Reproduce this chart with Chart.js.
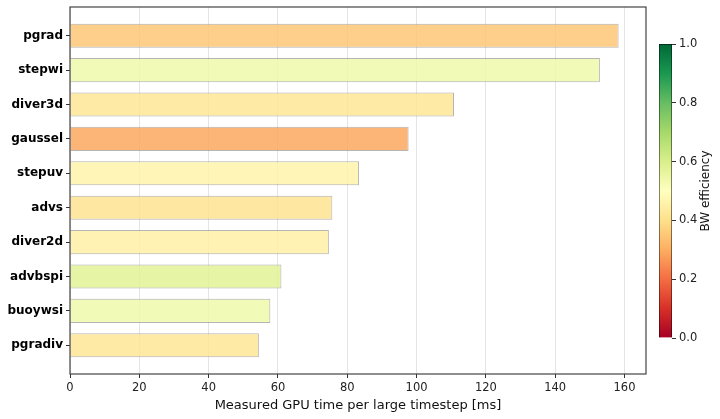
<!DOCTYPE html>
<html>
<head>
<meta charset="utf-8">
<script src="https://cdn.jsdelivr.net/npm/chart.js@4"></script>
<style>
  html, body { margin: 0; padding: 0; background: #fff; }
  #wrap { position: relative; width: 720px; height: 419px; }
  #myChart { position: absolute; left: 0; top: 0; }
  #cbChart { position: absolute; left: 640px; top: 0; }
</style>
</head>
<body>
<div id="wrap">
  <canvas id="myChart" width="720" height="419"></canvas>
  <canvas id="cbChart" width="80" height="419"></canvas>
</div>
<script>
// kernels, top to bottom
const kernels = ['pgrad', 'stepwi', 'diver3d', 'gaussel', 'stepuv', 'advs', 'diver2d', 'advbspi', 'buoywsi', 'pgradiv'];
const gpuTimeMs = [158.3, 152.9, 110.8, 97.7, 83.4, 75.7, 74.7, 61.0, 57.8, 54.5];
const bwEfficiency = [0.35, 0.54, 0.42, 0.29, 0.46, 0.41, 0.45, 0.58, 0.54, 0.42];
const xTicks = [0, 20, 40, 60, 80, 100, 120, 140, 160];
const cbTicks = [0, 0.2, 0.4, 0.6, 0.8, 1.0];

// matplotlib RdYlGn
const rdylgn = ['#a50026', '#d73027', '#f46d43', '#fdae61', '#fee08b', '#ffffbf',
                '#d9ef8b', '#a6d96a', '#66bd63', '#1a9850', '#006837'];

function hexRgb(h) {
  return [parseInt(h.slice(1, 3), 16), parseInt(h.slice(3, 5), 16), parseInt(h.slice(5, 7), 16)];
}
function cmap(t, alpha) {
  const p = Math.min(Math.max(t, 0), 1) * (rdylgn.length - 1);
  const i = Math.min(Math.floor(p), rdylgn.length - 2);
  const f = p - i;
  const a = hexRgb(rdylgn[i]), b = hexRgb(rdylgn[i + 1]);
  const c = a.map((v, k) => Math.round(v + (b[k] - v) * f));
  return `rgba(${c[0]}, ${c[1]}, ${c[2]}, ${alpha})`;
}

const font = { family: 'DejaVu Sans', size: 11.5 };

// axes frame like matplotlib spines
const frame = {
  id: 'frame',
  afterDraw(chart) {
    const a = chart.chartArea, ctx = chart.ctx;
    ctx.save();
    ctx.strokeStyle = '#444';
    ctx.lineWidth = 1.2;
    ctx.strokeRect(a.left, a.top, a.right - a.left, a.bottom - a.top);
    ctx.restore();
  }
};

new Chart(document.getElementById('myChart'), {
  type: 'bar',
  data: {
    datasets: [{
      data: kernels.map((k, i) => ({ x: gpuTimeMs[i], y: i })),
      backgroundColor: bwEfficiency.map(v => cmap(v, 0.85)),
      borderColor: 'rgba(120, 120, 120, 0.55)',
      borderWidth: 1,
      barPercentage: 0.7,
      categoryPercentage: 1
    }]
  },
  options: {
    indexAxis: 'y',
    responsive: false,
    animation: false,
    layout: { padding: { top: 7, right: 74, left: 0, bottom: 0 } },
    plugins: { legend: { display: false }, tooltip: { enabled: false } },
    scales: {
      x: {
        type: 'linear',
        min: 0,
        max: 166.2,
        offset: false,
        afterBuildTicks: s => { s.ticks = xTicks.map(v => ({ value: v })); },
        afterFit: s => { s.height = 45; },
        grid: { offset: false, color: '#e4e4e4', lineWidth: 1, tickLength: 4, tickColor: '#333' },
        border: { display: false },
        ticks: { font: font, color: '#222', padding: 3, maxRotation: 0, autoSkip: false },
        title: {
          display: true,
          text: 'Measured GPU time per large timestep [ms]',
          font: { family: 'DejaVu Sans', size: 13 },
          color: '#111',
          padding: { top: 2, bottom: 6 }
        }
      },
      y: {
        type: 'linear',
        reverse: true,
        offset: false,
        min: -0.835,
        max: kernels.length - 1 + 0.835,
        afterBuildTicks: s => { s.ticks = kernels.map((k, i) => ({ value: i })); },
        afterFit: s => { s.width = 70; s.paddingTop = 0; s.paddingBottom = 0; },
        grid: { offset: false, drawOnChartArea: false, tickLength: 4, tickColor: '#333' },
        border: { display: false },
        ticks: {
          font: { family: 'DejaVu Sans', size: 12, weight: 'bold' },
          color: '#000',
          padding: 3,
          autoSkip: false,
          callback: v => kernels[v]
        }
      }
    }
  },
  plugins: [frame]
});

// colorbar title, drawn bottom-to-top like matplotlib
const cbTitle = {
  id: 'cbTitle',
  afterDraw(chart) {
    const a = chart.chartArea, ctx = chart.ctx;
    ctx.save();
    ctx.translate(66, (a.top + a.bottom) / 2);
    ctx.rotate(-Math.PI / 2);
    ctx.font = '12px "DejaVu Sans"';
    ctx.fillStyle = '#111';
    ctx.textAlign = 'center';
    ctx.textBaseline = 'middle';
    ctx.fillText('BW efficiency', 0, 0);
    ctx.restore();
  }
};

new Chart(document.getElementById('cbChart'), {
  type: 'bar',
  data: {
    labels: ['cb'],
    datasets: [{
      data: [1],
      backgroundColor: ctx => {
        const a = ctx.chart.chartArea;
        if (!a) return '#ffffbf';
        const g = ctx.chart.ctx.createLinearGradient(0, a.bottom, 0, a.top);
        rdylgn.forEach((c, i) => g.addColorStop(i / (rdylgn.length - 1), c));
        return g;
      },
      borderColor: '#000',
      borderWidth: 0.8,
      barPercentage: 1,
      categoryPercentage: 1
    }]
  },
  options: {
    responsive: false,
    animation: false,
    layout: { padding: { top: 44, bottom: 81, left: 19, right: 0 } },
    plugins: { legend: { display: false }, tooltip: { enabled: false } },
    scales: {
      x: { display: false },
      y: {
        position: 'right',
        min: 0,
        max: 1,
        afterBuildTicks: s => { s.ticks = cbTicks.map(v => ({ value: v })); },
        afterFit: s => { s.width = 48; },
        grid: { drawOnChartArea: false, tickLength: 4, tickColor: '#333' },
        border: { display: false },
        ticks: { font: font, color: '#222', padding: 3, callback: v => v.toFixed(1) }
      }
    }
  },
  plugins: [cbTitle]
});
</script>
</body>
</html>
